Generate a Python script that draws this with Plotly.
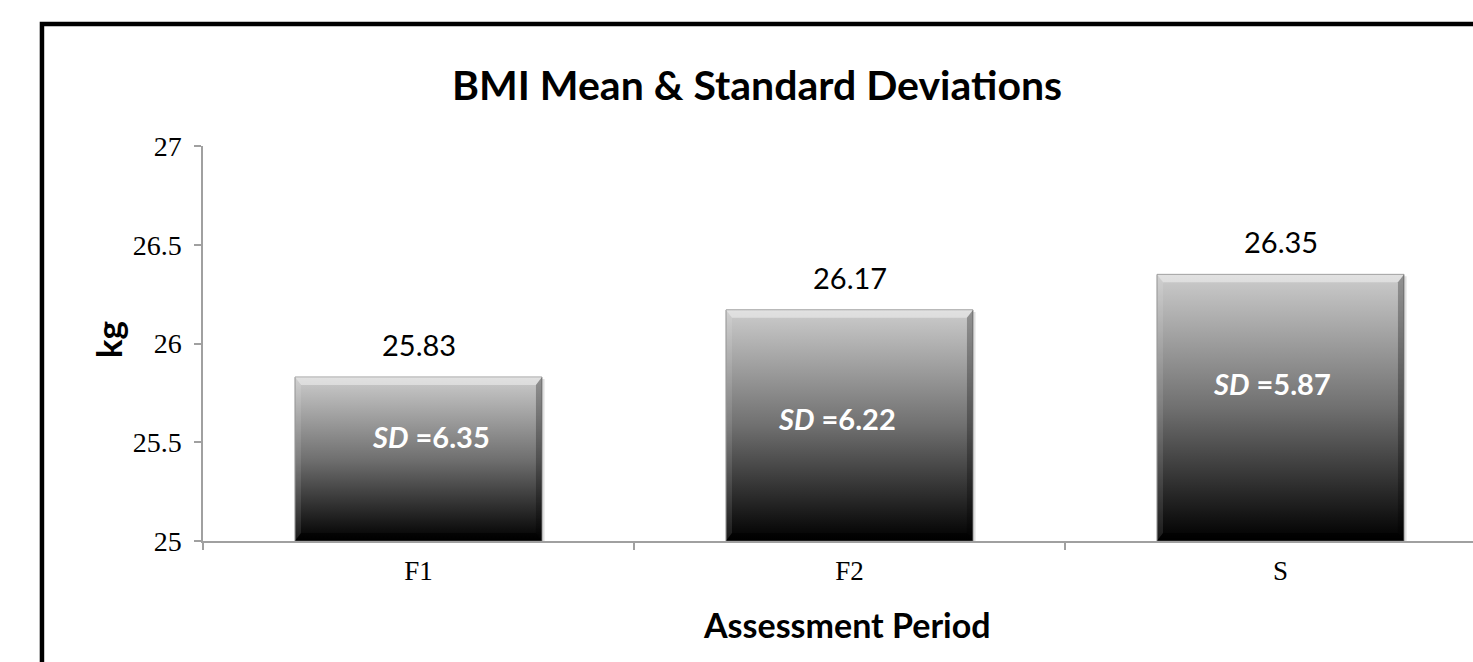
import plotly.graph_objects as go

# Assessment periods and BMI summary statistics
periods = ["F1", "F2", "S"]
bmi_mean = [25.83, 26.17, 26.35]
bmi_sd = [6.35, 6.22, 5.87]
y_ticks = [25, 25.5, 26, 26.5, 27]

# Placement of the SD labels inside each bar (x offset from bar centre, y in kg)
sd_dx = [0.03, -0.03, -0.02]
sd_y = [25.53, 25.62, 25.80]

BASE = 25.0
BAR_W = 0.573
BEV_X = 0.014   # bevel depth along x (axis units)
BEV_Y = 0.040   # bevel depth along y (axis units)

fig = go.Figure()


def poly(xs, ys, **kw):
    fig.add_trace(go.Scatter(
        x=xs + [xs[0]], y=ys + [ys[0]], mode="lines", fill="toself",
        hoverinfo="skip", showlegend=False, **kw))


for i, v in enumerate(bmi_mean):
    x0, x1 = i - BAR_W / 2, i + BAR_W / 2
    # soft drop shadow
    poly([x0 + 0.004, x1 + 0.006, x1 + 0.006, x0 + 0.004],
         [BASE, BASE, v - 0.01, v - 0.01],
         line=dict(width=0), fillcolor="rgba(0,0,0,0.12)")
    # bar body with vertical gradient
    poly([x0, x1, x1, x0], [BASE, BASE, v, v],
         line=dict(width=1, color="#8a8a8a"),
         fillgradient=dict(type="vertical",
                           colorscale=[[0, "#000000"], [0.1, "#161616"],
                                       [0.5, "#707070"], [1, "#cccccc"]]))
    # bevel: top highlight
    poly([x0, x1, x1 - BEV_X, x0 + BEV_X], [v, v, v - BEV_Y, v - BEV_Y],
         line=dict(width=0), fillcolor="rgba(255,255,255,0.42)")
    # bevel: left edge
    poly([x0, x0, x0 + BEV_X, x0 + BEV_X],
         [BASE, v, v - BEV_Y, BASE + BEV_Y],
         line=dict(width=0), fillcolor="rgba(255,255,255,0.10)")
    # bevel: right edge
    poly([x1, x1, x1 - BEV_X, x1 - BEV_X],
         [BASE, v, v - BEV_Y, BASE + BEV_Y],
         line=dict(width=0), fillcolor="rgba(0,0,0,0.28)")
    # bevel: bottom edge
    poly([x0, x1, x1 - BEV_X, x0 + BEV_X],
         [BASE, BASE, BASE + BEV_Y, BASE + BEV_Y],
         line=dict(width=0), fillcolor="rgba(0,0,0,0.55)")

annotations = []
for i, v in enumerate(bmi_mean):
    annotations.append(dict(
        x=i, y=v, xref="x", yref="y", text=f"{v:.2f}", showarrow=False,
        xanchor="center", yanchor="bottom", yshift=13,
        font=dict(family="Lato", size=29, color="black")))
    annotations.append(dict(
        x=i + sd_dx[i], y=sd_y[i], xref="x", yref="y",
        text=f"<b><i>SD</i> =</b><b>{bmi_sd[i]:.2f}</b>", showarrow=False,
        xanchor="center", yanchor="middle",
        font=dict(family="Lato", size=29, color="white")))

annotations += [
    dict(x=0.436, y=1.155, xref="paper", yref="paper",
         xanchor="center", yanchor="middle",
         text="<b>BMI Mean &amp; Standard Deviations</b>", showarrow=False,
         font=dict(family="Lato", size=41, color="black")),
    dict(x=0.507, y=-0.211, xref="paper", yref="paper",
         xanchor="center", yanchor="middle",
         text="<b>Assessment Period</b>", showarrow=False,
         font=dict(family="Lato", size=34, color="black")),
    dict(x=-0.0745, y=0.509, xref="paper", yref="paper",
         xanchor="center", yanchor="middle",
         text="<b>kg</b>", showarrow=False, textangle=-90,
         font=dict(family="Lato", size=35, color="black")),
]

axis_grey = "#a0a0a0"
fig.update_layout(
    width=1473, height=662,
    margin=dict(l=203, r=0, t=146, b=121),
    paper_bgcolor="white", plot_bgcolor="white",
    showlegend=False,
    annotations=annotations,
    shapes=[dict(type="rect", xref="paper", yref="paper",
                 x0=-0.1268, x1=1.02, y0=-0.45, y1=1.3089,
                 line=dict(color="black", width=4.5), layer="above")],
    xaxis=dict(
        range=[-0.5, -0.5 + 1270 / 431], tickmode="array",
        tickvals=list(range(len(periods))), ticktext=periods, ticks="",
        showline=True, linecolor=axis_grey, linewidth=1.5,
        showgrid=False, zeroline=False, ticklabelstandoff=5,
        tickfont=dict(family="Liberation Serif", size=27, color="black"),
        minor=dict(tickmode="linear", tick0=-0.5, dtick=1, ticks="outside",
                   ticklen=7, tickwidth=1.5, tickcolor=axis_grey,
                   showgrid=False),
        fixedrange=True),
    yaxis=dict(
        range=[25, 27], tickmode="array", tickvals=y_ticks,
        ticktext=[f"{t:g}" for t in y_ticks],
        ticks="outside", ticklen=7, tickwidth=1.5, tickcolor=axis_grey,
        showline=True, linecolor=axis_grey, linewidth=1.5,
        showgrid=False, zeroline=False, ticklabelstandoff=7,
        tickfont=dict(family="Liberation Serif", size=28, color="black"),
        fixedrange=True),
)

fig.write_html("out.html")
